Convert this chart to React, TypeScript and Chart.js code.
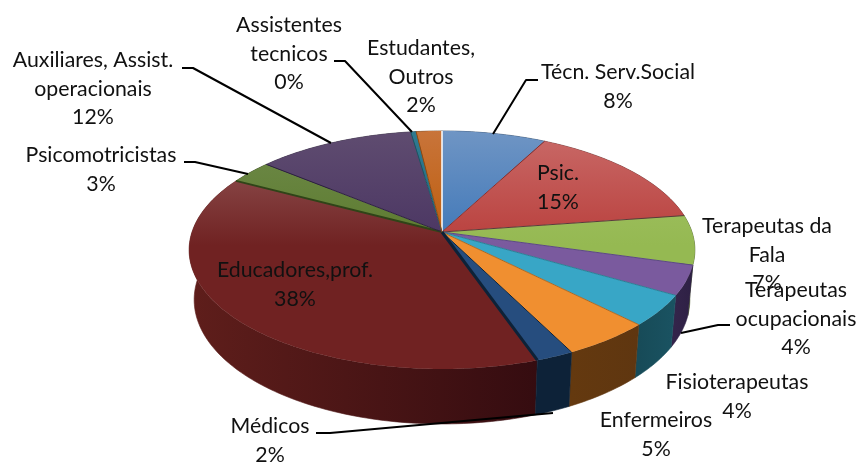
import React, { useEffect, useRef } from "react";
import { Chart, registerables } from "chart.js";

Chart.register(...registerables);

const categories = [
  "Técn. Serv.Social", "Psic.", "Terapeutas da Fala", "Terapeutas ocupacionais",
  "Fisioterapeutas", "Enfermeiros", "Médicos", "Educadores,prof.",
  "Psicomotricistas", "Auxiliares, Assist. operacionais", "Assistentes tecnicos", "Estudantes, Outros",
];
const shares = [7.7, 15, 6.7, 4, 4.2, 5, 2.1, 38.1, 3.2, 11.7, 0.4, 1.9];
const percentLabels = ["8%", "15%", "7%", "4%", "4%", "5%", "2%", "38%", "3%", "12%", "0%", "2%"];
const nameLines = [
  ["Técn. Serv.Social"], ["Psic."], ["Terapeutas da", "Fala"], ["Terapeutas", "ocupacionais"],
  ["Fisioterapeutas"], ["Enfermeiros"], ["Médicos"], ["Educadores,prof."],
  ["Psicomotricistas"], ["Auxiliares, Assist.", "operacionais"], ["Assistentes", "tecnicos"], ["Estudantes,", "Outros"],
];

// styles
const faceTop = ["#6f95c4", "#c96a68", "#a6c46a", "#8a70a8", "#4fb2cc", "#f9a35c", "#2f5585", "#965c5c", "#6f8a4a", "#5f4c70", "#2f7a90", "#c8743a"];
const faceBase = ["#3f77b8", "#b93f3c", "#95b952", "#7a5a9e", "#38a6c6", "#f08f30", "#264d7e", "#702222", "#5c7b2f", "#4a3562", "#236a80", "#bd5c0a"];
const wallLeft = ["#1f3d60", "#602826", "#4d5e2c", "#33244a", "#174b58", "#64390f", "#0d2238", "#5f1e1b", "#2f3d18", "#261d32", "#133540", "#5b2c05"];
const wallRight = ["#1f3d60", "#602826", "#4d5e2c", "#2e2044", "#1a5362", "#5f3610", "#0d2238", "#350c10", "#2f3d18", "#261d32", "#133540", "#5b2c05"];
const edgeColors = ["#ffffff", "#8a2f2c", "#5a3a3a", "#5b4a80", "#2a7f96", "#a86a28", "#0d2238", "#0d2238", "#2f4418", "#2d2140", "#1c5565", "#8f4a12"];
const edgeWidths = [1.5, 1, 1, 1, 1, 1, 1, 3, 2, 1, 1, 1];

const labelAnchors = [
  [618, 72], [558, 173], [767, 226], [796, 290], [737, 382], [656, 420],
  [270, 426], [295, 270], [101, 155], [93, 60], [289, 25], [421, 48],
];
const leaders = [
  [[493, 134], [526, 80], [538, 80]],
  [[681, 333], [718, 325], [730, 325]],
  [[316, 433], [330, 433], [553, 413]],
  [[184, 162], [195, 162], [248, 174]],
  [[182, 68], [193, 68], [331, 143]],
  [[334, 61], [345, 61], [412, 132]],
];

const view = { cx: 442, cy: 232, a: 250, b: 116.3, p: 0.151, depth: 49, shrink: 0.98 };
const lineStep = 28.7;
const fontSpec = '21.3px Lato, "Liberation Sans", sans-serif';

const rimPoint = (ang: number) => {
  const x = Math.cos(ang), y = Math.sin(ang);
  const s = 1 / (1 - view.p * y);
  return [view.cx + view.a * x * s, view.cy + view.b * y * s];
};
const footPoint = (ang: number) => {
  const x = Math.cos(ang), y = Math.sin(ang);
  const s = 1 / (1 - view.p * y);
  return [view.cx + view.shrink * view.a * x * s, view.cy + (view.shrink * view.b * y + view.depth) * s];
};

const samples = (a0: number, a1: number) => {
  const n = Math.max(2, Math.ceil((a1 - a0) / 0.02));
  const out: number[] = [];
  for (let i = 0; i <= n; i++) out.push(a0 + ((a1 - a0) * i) / n);
  return out;
};

const pie3d = {
  id: "pie3d",
  beforeDatasetsDraw(chart: any) {
    const ctx = chart.ctx as CanvasRenderingContext2D;
    const arcs = chart.getDatasetMeta(0).data as any[];

    // outer walls, back to front
    const order = arcs
      .map((el, i) => ({ el, i, mid: Math.sin((el.startAngle + el.endAngle) / 2) }))
      .sort((u, v) => u.mid - v.mid);
    for (const { el, i } of order) {
      const angs = samples(el.startAngle, el.endAngle);
      const rim = angs.map(rimPoint);
      const foot = angs.map(footPoint);
      const xs = rim.map((q) => q[0]);
      const g = ctx.createLinearGradient(Math.min(...xs), 0, Math.max(...xs), 0);
      g.addColorStop(0, wallLeft[i]);
      g.addColorStop(1, wallRight[i]);
      ctx.beginPath();
      rim.forEach((q, k) => (k ? ctx.lineTo(q[0], q[1]) : ctx.moveTo(q[0], q[1])));
      foot.reverse().forEach((q) => ctx.lineTo(q[0], q[1]));
      ctx.closePath();
      ctx.fillStyle = g;
      ctx.fill();
      ctx.strokeStyle = g;
      ctx.lineWidth = 0.6;
      ctx.stroke();
    }

    // top faces
    arcs.forEach((el, i) => {
      const g = ctx.createLinearGradient(0, 131, 0, 245);
      g.addColorStop(0, faceTop[i]);
      g.addColorStop(1, faceBase[i]);
      ctx.beginPath();
      ctx.moveTo(view.cx, view.cy);
      samples(el.startAngle, el.endAngle).map(rimPoint).forEach((q) => ctx.lineTo(q[0], q[1]));
      ctx.closePath();
      ctx.fillStyle = g;
      ctx.fill();
    });

    // radial edges
    arcs.forEach((el, i) => {
      const q = rimPoint(el.startAngle);
      ctx.beginPath();
      ctx.moveTo(view.cx, view.cy);
      ctx.lineTo(q[0], q[1]);
      ctx.strokeStyle = edgeColors[i];
      ctx.lineWidth = edgeWidths[i];
      ctx.stroke();
    });

    // leader lines
    ctx.strokeStyle = "#000000";
    ctx.lineWidth = 2;
    ctx.lineJoin = "round";
    leaders.forEach((pts) => {
      ctx.beginPath();
      pts.forEach((q, k) => (k ? ctx.lineTo(q[0], q[1]) : ctx.moveTo(q[0], q[1])));
      ctx.stroke();
    });

    // labels
    ctx.font = fontSpec;
    ctx.fillStyle = "#111111";
    ctx.textAlign = "center";
    ctx.textBaseline = "middle";
    nameLines.forEach((lines, i) => {
      const [x, y] = labelAnchors[i];
      [...lines, percentLabels[i]].forEach((t, k) => ctx.fillText(t, x, y + k * lineStep));
    });
    return false;
  },
};

export default function App() {
  const ref = useRef<HTMLCanvasElement>(null);
  useEffect(() => {
    const chart = new Chart(ref.current!, {
      type: "pie",
      data: { labels: categories, datasets: [{ data: shares, backgroundColor: faceBase }] },
      options: {
        responsive: false,
        animation: false,
        events: [],
        plugins: { legend: { display: false }, tooltip: { enabled: false } },
      },
      plugins: [pie3d],
    } as any);
    return () => chart.destroy();
  }, []);
  return (
    <div style={{ position: "fixed", left: 0, top: 0, width: 861, height: 462, background: "#fff" }}>
      <canvas ref={ref} width={861} height={462} style={{ display: "block" }} />
    </div>
  );
}
